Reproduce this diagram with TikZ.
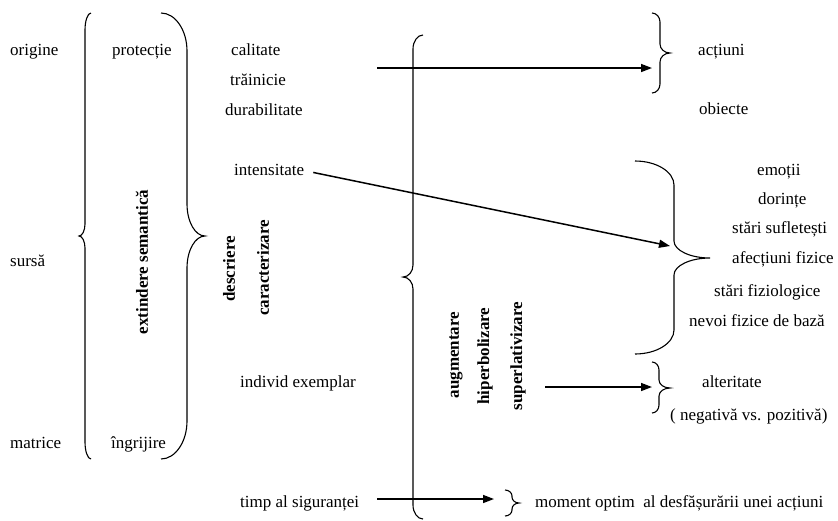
\documentclass[tikz,border=0pt]{standalone}
\usepackage{fontspec}
\setmainfont{Liberation Serif}
\usetikzlibrary{arrows.meta}
\tikzset{
  lbl/.style={anchor=base west, inner sep=0pt, font=\fontsize{17}{20}\selectfont},
  vlbl/.style={rotate=90, inner sep=0pt, font=\fontsize{17}{20}\selectfont\bfseries},
  bracestyle/.style={line width=1.1pt, black},
  arr/.style={line width=1.5pt, -{Triangle[length=11pt,width=8pt]}},
}
% #1 x end, #2 x line, #3 x tip, #4 ytop, #5 ymid, #6 ybot, #7 end radius, #8 tip radius
\newcommand{\mybrace}[8]{%
  \draw[bracestyle] (#1,#4)
    .. controls ({#1+0.55*(#2-#1)},#4) and (#2,{#4+0.45*#7}) .. (#2,{#4+#7})
    -- (#2,{#5-#8})
    .. controls (#2,{#5-0.45*#8}) and ({#2+0.45*(#3-#2)},#5) .. (#3,#5)
    .. controls ({#2+0.45*(#3-#2)},#5) and (#2,{#5+0.45*#8}) .. (#2,{#5+#8})
    -- (#2,{#6-#7})
    .. controls (#2,{#6-0.45*#7}) and ({#1+0.55*(#2-#1)},#6) .. (#1,#6);}
\begin{document}
\begin{tikzpicture}[x=1pt,y=-1pt]
\useasboundingbox (0,0) rectangle (838,520);
% left column
\node[lbl] (origine) at (10,55) {origine};
\node[lbl] (sursa) at (10,266) {sursă};
\node[lbl] (matrice) at (10,448) {matrice};
\node[lbl] (protectie) at (112,55) {protecție};
\node[lbl] (ingrijire) at (111,448) {îngrijire};
\node[vlbl] (extindere) at (142,262) {extindere semantică};
\node[vlbl] (descriere) at (229,269) {descriere};
\node[vlbl] (caracterizare) at (263,268) {caracterizare};
% middle column
\node[lbl] (calitate) at (231,55) {calitate};
\node[lbl] (trainicie) at (230,85) {trăinicie};
\node[lbl] (durabilitate) at (225,115) {durabilitate};
\node[lbl] (intensitate) at (234,175) {intensitate};
\node[lbl] (individ) at (240,387) {individ exemplar};
\node[lbl] (timp) at (240,507) {timp al siguranței};
\node[vlbl] (augmentare) at (456,355) {augmentare};
\node[vlbl] (hiperbolizare) at (485,356) {hiperbolizare};
\node[vlbl] (superlativizare) at (518,356) {superlativizare};
% right column
\node[lbl] (actiuni) at (698,55) {acțiuni};
\node[lbl] (obiecte) at (699,114) {obiecte};
\node[lbl] (emotii) at (757,175) {emoții};
\node[lbl] (dorinte) at (758,204) {dorințe};
\node[lbl] (suflet) at (732,233) {stări sufletești};
\node[lbl] (afectiuni) at (732,263) {afecțiuni fizice};
\node[lbl] (fiziologice) at (714,296) {stări fiziologice};
\node[lbl] (nevoi) at (689,326) {nevoi fizice de bază};
\node[lbl] (alteritate) at (702,387) {alteritate};
\node[lbl] (negativa) at (670,420) {( negativă vs. pozitivă)};
\node[lbl] (moment) at (535,507) {moment optim\ \ al desfășurării unei acțiuni};
% braces
\mybrace{91}{85}{79}{13}{236}{459}{17}{12}
\mybrace{161}{187}{205}{13}{236}{459}{38}{32}
\mybrace{423}{413}{403}{35}{277}{519}{14}{12}
\mybrace{652}{660}{670}{13}{53}{93}{9}{9}
\mybrace{635}{674}{710}{161}{258}{354}{24}{17}
\mybrace{652}{659}{670}{362}{388}{413}{8}{8}
\mybrace{505}{512}{519}{490}{503}{516}{6}{6}
% arrows
\coordinate (a1s) at (377,68);
\coordinate (a1e) at (652,68);
\coordinate (a2e) at (670,246);
\coordinate (a3s) at (545,387);
\coordinate (a3e) at (652,387);
\coordinate (a4s) at (377,499);
\coordinate (a4e) at (494,499);
\draw[arr] (a1s) -- (a1e);
\draw[arr] ([xshift=9pt,yshift=-3pt]intensitate.east) -- (a2e);
\draw[arr] (a3s) -- (a3e);
\draw[arr] (a4s) -- (a4e);
\end{tikzpicture}
\end{document}
